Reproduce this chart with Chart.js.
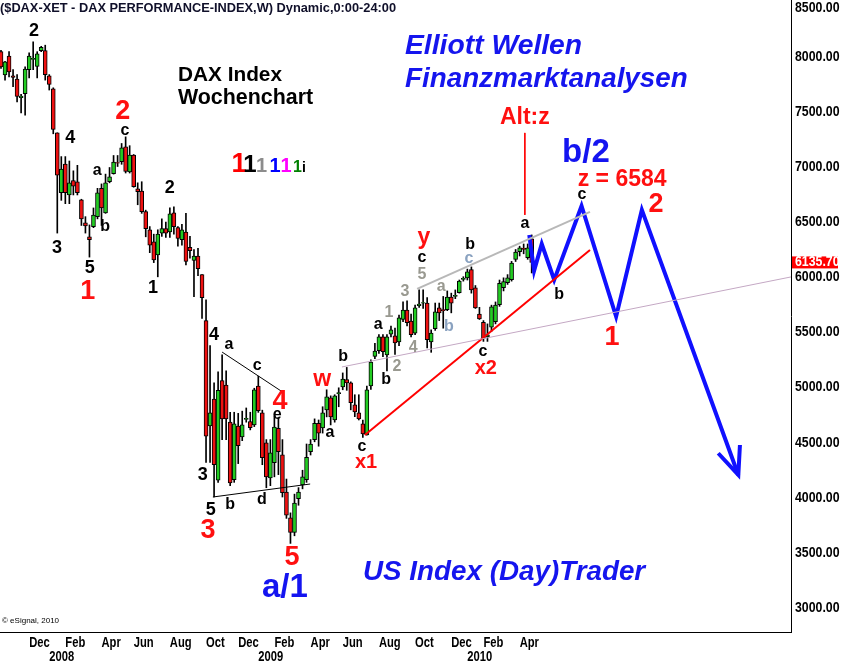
<!DOCTYPE html>
<html lang="de">
<head>
<meta charset="UTF-8">
<title>DAX Wochenchart</title>
<script src="https://cdn.jsdelivr.net/npm/chart.js"></script>
<style>
  html, body { margin: 0; padding: 0; background: #fff; }
  canvas { display: block; }
</style>
</head>
<body>
<canvas id="daxChart" width="841" height="663"></canvas>
<script>
// weekly bars, index 0 = week ending 19.10.2007, last = week ending 30.04.2010
const opens = [
  8048, 7838, 8008, 7830, 7800, 7631, 7666, 7885, 7978, 7914,
  8057, 8057, 7830, 7710, 7312, 6768, 7027, 6748, 6878, 6868,
  6704, 6496, 6367, 6461, 6551, 6808, 6586, 6868, 6942, 7041,
  7051, 7185, 6957, 7110, 6803, 6783, 6596, 6432, 6322, 6203,
  6402, 6442, 6412, 6586, 6452, 6343, 6412, 6273, 6154, 6194,
  6025, 5608, 4652, 4896, 4160, 5063, 5023, 4686, 4165, 4651,
  4553, 4711, 4691, 4661, 5013, 4770, 4498, 4180, 4319, 4631,
  4389, 4052, 3819, 3685, 3992, 4116, 4165, 4418, 4528, 4676,
  4633, 4798, 4907, 4706, 4945, 5006, 5073, 5043, 4843, 4770,
  4671, 4571, 5014, 5282, 5336, 5460, 5296, 5485, 5470, 5415,
  5618, 5703, 5603, 5494, 5743, 5767, 5767, 5415, 5534, 5723,
  5708, 5708, 5822, 5827, 5862, 5981, 5996, 6070, 5906, 5668,
  5593, 5459, 5548, 5598, 5752, 5906, 5951, 5980, 6164, 6234,
  6263, 6179, 6349
];
const highs = [
  8060, 7960, 8048, 7885, 7840, 7661, 7910, 8038, 8137, 8048,
  8097, 8107, 7840, 7720, 7312, 7096, 7096, 7056, 6967, 7017,
  6709, 6551, 6476, 6630, 6808, 6848, 6937, 6997, 7106, 7106,
  7215, 7275, 7195, 7115, 6858, 6868, 6610, 6461, 6392, 6432,
  6531, 6501, 6630, 6640, 6461, 6481, 6581, 6372, 6253, 6263,
  6025, 5797, 5380, 5043, 5142, 5297, 5152, 4776, 4776, 4766,
  4786, 4815, 4776, 4994, 5103, 4795, 4528, 4528, 4736, 4726,
  4528, 4170, 3863, 4033, 4092, 4250, 4488, 4528, 4716, 4706,
  4826, 4980, 4925, 4935, 4998, 5133, 5183, 5052, 4935, 4935,
  4706, 5014, 5252, 5401, 5480, 5480, 5480, 5559, 5539, 5658,
  5777, 5787, 5668, 5748, 5886, 5886, 5817, 5524, 5767, 5767,
  5827, 5877, 5857, 5886, 5976, 6006, 6075, 6095, 5926, 5728,
  5608, 5578, 5748, 5777, 5976, 5996, 6025, 6145, 6253, 6283,
  6303, 6303, 6385
];
const lows = [
  7895, 7790, 7820, 7730, 7592, 7492, 7472, 7810, 7885, 7810,
  8048, 7790, 7700, 7303, 6402, 6699, 6669, 6669, 6748, 6748,
  6471, 6402, 6184, 6451, 6531, 6471, 6581, 6858, 6937, 7006,
  7026, 6947, 6947, 6818, 6659, 6581, 6368, 6224, 6134, 6005,
  6372, 6362, 6362, 6392, 6283, 6293, 6114, 6174, 5826, 6015,
  5628, 4320, 4320, 4007, 4140, 4527, 4527, 4110, 4140, 4310,
  4518, 4686, 4616, 4646, 4775, 4300, 4091, 4110, 4190, 4210,
  4007, 3813, 3586, 3655, 3932, 4081, 4140, 4388, 4508, 4468,
  4587, 4734, 4661, 4686, 4826, 4980, 4975, 4798, 4736, 4706,
  4548, 4568, 4984, 5262, 5311, 5281, 5152, 5460, 5301, 5380,
  5598, 5559, 5460, 5479, 5728, 5718, 5360, 5320, 5519, 5608,
  5539, 5698, 5678, 5807, 5857, 5966, 5976, 5857, 5718, 5618,
  5419, 5419, 5509, 5578, 5737, 5877, 5936, 5966, 6144, 6194,
  6214, 6164, 6040
];
const closes = [
  7909, 7955, 7865, 7815, 7641, 7646, 7890, 8008, 7988, 8028,
  8087, 7840, 7750, 7342, 6927, 6982, 6768, 6858, 6828, 6768,
  6530, 6466, 6342, 6566, 6768, 6630, 6858, 6912, 7046, 7036,
  7175, 6962, 7110, 6823, 6778, 6596, 6442, 6293, 6159, 6392,
  6442, 6402, 6576, 6461, 6353, 6432, 6144, 6243, 6194, 6080,
  5816, 4558, 4771, 4300, 4974, 4716, 4716, 4135, 4671, 4473,
  4661, 4721, 4636, 4979, 4790, 4363, 4190, 4408, 4641, 4418,
  4047, 3843, 3685, 3953, 4052, 4190, 4368, 4488, 4676, 4587,
  4770, 4915, 4734, 4925, 4955, 5078, 5043, 4862, 4779, 4716,
  4580, 4979, 5232, 5331, 5460, 5326, 5460, 5524, 5405, 5633,
  5703, 5588, 5479, 5723, 5758, 5772, 5435, 5494, 5688, 5678,
  5698, 5822, 5767, 5837, 5966, 5991, 6050, 5887, 5723, 5623,
  5449, 5479, 5732, 5748, 5945, 5961, 5996, 6130, 6229, 6268,
  6253, 6268, 6135.70
];

// axis ticks (week index of first bar in month / year)
const monthWeeks = [7, 16, 25, 33, 42, 51, 59, 68, 77, 85, 94, 103, 112, 120, 129];
const monthLabels = ['Dec', 'Feb', 'Apr', 'Jun', 'Aug', 'Oct', 'Dec', 'Feb', 'Apr', 'Jun', 'Aug', 'Oct', 'Dec', 'Feb', 'Apr'];
const yearWeeks = [12, 64, 116];
const yearLabels = ['2008', '2009', '2010'];
const priceTicks = [3000, 3500, 4000, 4500, 5000, 5500, 6000, 6500, 7000, 7500, 8000, 8500];

// drawn lines (week, price)
const triTopWeeks = [55.0, 69.7];
const triTopPrices = [5322, 4968];
const triBotWeeks = [52.7, 76.9];
const triBotPrices = [4007, 4125];
const redTrendWeeks = [90.5, 146.5];
const redTrendPrices = [4569, 6248];
const lilacWeeks = [84.8, 196.5];
const lilacPrices = [5187, 6004];
const channelWeeks = [103.5, 146.5];
const channelPrices = [5895, 6594];
const altWeeks = [130.3, 130.3];
const altPrices = [7311, 6567];
const projWeeks = [131.4, 132.6, 134.5, 137.6, 144.4, 153.0, 159.4, 183.4];
const projPrices = [6385, 6061, 6303, 5977, 6648, 5644, 6612, 4207];
const arrowWeeks = [178.4, 183.4, 183.8];
const arrowPrices = [4404, 4207, 4479];

// wave counts
const waveText = ['2', '4', '3', '5', '1', 'a', 'b', '2', 'c', '2', '1', '4', 'a', 'c', '4', 'e', '3', '5', 'b', 'd',
  '3', '5', 'a/1', 'w', 'b', 'a', 'c', 'x1', 'a', 'b', '1', '2', '3', '4', '5', 'c', 'y', 'a', 'b', 'c',
  'b', 'c', 'x2', 'a', 'Alt:z', 'b/2', 'z = 6584', 'c', '2', '1', 'b'];
const waveWeek = [8.2, 17.2, 13.9, 22.1, 21.6, 23.9, 25.9, 30.3, 30.8, 42.0, 37.8, 53.0, 56.7, 63.7, 69.4, 68.7, 50.2, 52.2, 57.0, 64.9,
  51.5, 72.4, 70.6, 79.9, 85.1, 81.8, 89.8, 90.8, 93.8, 95.8, 96.5, 98.5, 100.5, 102.5, 104.7, 104.7, 105.2, 109.5, 111.4, 116.4,
  116.7, 119.9, 120.6, 130.3, 130.3, 145.5, 154.5, 144.5, 162.9, 152.0, 138.8];
const wavePrice = [8236, 7265, 6267, 6086, 5868, 6965, 6457, 7501, 7328, 6811, 5904, 5478, 5387, 5196, 4870, 4752, 4207, 3890, 3935, 3980,
  3699, 3454, 3182, 5069, 5278, 4588, 4461, 4316, 5568, 5069, 5677, 5187, 5868, 5360, 6022, 6176, 6358, 5913, 5550, 6167,
  6294, 5323, 5169, 6484, 7446, 7128, 6883, 6748, 6657, 5450, 5840];
const waveKind = ['k', 'k', 'k', 'k', 'r', 's', 's', 'r', 's', 'k', 'k', 'k', 's', 's', 'r', 's', 'k', 'k', 's', 's',
  'r', 'r', 'B', 'm', 's', 's', 's', 'x', 's', 's', 'g', 'g', 'g', 'g', 'g', 's', 'm', 'g', 'h', 'h',
  's', 's', 'x', 's', 'm', 'B', 'm', 's', 'r', 'r', 's'];

const SANS = "'Liberation Sans', Arial, sans-serif";
const kinds = {
  k: ['bold 18px', '#000000'],
  s: ['bold 16px', '#000000'],
  r: ['bold 27px', '#ff1010'],
  m: ['bold 23px', '#ff1010'],
  x: ['bold 20px', '#ff1010'],
  g: ['bold 16px', '#999990'],
  h: ['bold 16px', '#8aa2c0'],
  B: ['bold 33px', '#1414f0']
};

function pts(xs, ys) {
  return xs.map((x, i) => ({x: x, y: ys[i]}));
}

function lineSet(xs, ys, color, width) {
  return {
    type: 'line',
    data: pts(xs, ys),
    borderColor: color,
    borderWidth: width,
    pointRadius: 0,
    tension: 0,
    fill: false,
    order: -1
  };
}

function fitFont(ctx, text, width, style) {
  ctx.font = style + ' 20px ' + SANS;
  const size = 20 * width / ctx.measureText(text).width;
  return style + ' ' + size.toFixed(1) + 'px ' + SANS;
}

// condensed text, like the narrow axis font of the original
function narrowText(ctx, text, x, y, sx) {
  ctx.save();
  ctx.translate(x, y);
  ctx.scale(sx, 1);
  ctx.fillText(text, 0, 0);
  ctx.restore();
}

const annotations = {
  id: 'annotations',
  afterDraw(chart) {
    const ctx = chart.ctx;
    const xs = chart.scales.x;
    const ys = chart.scales.y;
    ctx.save();

    // price axis labels
    ctx.font = 'bold 14px ' + SANS;
    ctx.fillStyle = '#000';
    ctx.textAlign = 'left';
    ctx.textBaseline = 'middle';
    ys.ticks.forEach(t => {
      const py = Math.max(ys.getPixelForValue(t.value), 8);
      narrowText(ctx, t.value.toFixed(2), ys.left + 4, py, 0.88);
    });

    // last price tag
    const last = closes[closes.length - 1];
    const ly = ys.getPixelForValue(last);
    ctx.fillStyle = '#ff0000';
    ctx.fillRect(ys.left + 1, ly - 6, 46, 12);
    ctx.fillStyle = '#ffffff';
    narrowText(ctx, last.toFixed(2), ys.left + 4, ly, 0.88);

    // time axis labels
    ctx.fillStyle = '#000';
    ctx.font = 'bold 14px ' + SANS;
    xs.ticks.forEach((t, i) => {
      narrowText(ctx, monthLabels[i], xs.getPixelForValue(t.value), xs.top + 11, 0.8);
    });
    yearWeeks.forEach((w, i) => {
      narrowText(ctx, yearLabels[i], xs.getPixelForValue(w), xs.top + 25, 0.8);
    });

    // header and titles
    const titles = [
      ['($DAX-XET - DAX PERFORMANCE-INDEX,W) Dynamic,0:00-24:00', 0, 8, 395, 'bold', '#10102a'],
      ['Elliott Wellen', 405, 46, 177, 'italic bold', '#1515ee'],
      ['Finanzmarktanalysen', 405, 79, 283, 'italic bold', '#1515ee'],
      ['US Index (Day)Trader', 363, 572, 282, 'italic bold', '#1515ee'],
      ['DAX Index', 178, 75, 104, 'bold', '#000000'],
      ['Wochenchart', 178, 98, 135, 'bold', '#000000']
    ];
    titles.forEach(t => {
      ctx.font = fitFont(ctx, t[0], t[3], t[4]);
      ctx.fillStyle = t[5];
      ctx.fillText(t[0], t[1], t[2]);
    });

    ctx.font = '8px ' + SANS;
    ctx.fillStyle = '#000';
    ctx.fillText('\u00a9 eSignal, 2010', 2, 621);

    // coloured degree legend
    const legend = [
      ['1', 239, 27, '#ff0000'],
      ['1', 250, 24, '#000000'],
      ['1', 261.5, 20, '#8c8c8c'],
      ['1', 275, 20, '#0000ff'],
      ['1', 286, 20, '#ff00ff'],
      ['1', 297.5, 16, '#008000'],
      ['i', 304, 14, '#000000']
    ];
    ctx.textAlign = 'center';
    ctx.textBaseline = 'alphabetic';
    legend.forEach(l => {
      ctx.font = 'bold ' + l[2] + 'px ' + SANS;
      ctx.fillStyle = l[3];
      ctx.fillText(l[0], l[1], 172);
    });

    // wave labels
    ctx.textBaseline = 'middle';
    waveText.forEach((t, i) => {
      const k = kinds[waveKind[i]];
      ctx.font = k[0] + ' ' + SANS;
      ctx.fillStyle = k[1];
      ctx.fillText(t, xs.getPixelForValue(waveWeek[i]), ys.getPixelForValue(wavePrice[i]));
    });
    ctx.restore();
  }
};

const weeks = closes.map((c, i) => i);
const bodyData = weeks.map(i => {
  let o = opens[i], c = closes[i];
  if (Math.abs(o - c) < 8) { o = c + (c >= o ? -5 : 5); }
  return {x: i, y: [o, c]};
});
const wickData = weeks.map(i => ({x: i, y: [lows[i], highs[i]]}));
const bodyColors = weeks.map(i => closes[i] >= opens[i] ? '#22cc22' : '#ee1111');

new Chart(document.getElementById('daxChart').getContext('2d'), {
  type: 'bar',
  data: {
    datasets: [
      {
        data: bodyData,
        backgroundColor: bodyColors,
        borderColor: '#000000',
        borderWidth: 1,
        borderSkipped: false,
        barThickness: 4,
        grouped: false,
        order: 0
      },
      {
        data: wickData,
        backgroundColor: '#000000',
        barThickness: 1,
        grouped: false,
        order: 1
      },
      lineSet(lilacWeeks, lilacPrices, '#c4a8c4', 1),
      lineSet(channelWeeks, channelPrices, '#b8b8b8', 2),
      lineSet(triTopWeeks, triTopPrices, '#000000', 1),
      lineSet(triBotWeeks, triBotPrices, '#000000', 1),
      lineSet(redTrendWeeks, redTrendPrices, '#ff0000', 2),
      lineSet(altWeeks, altPrices, '#ff0000', 1),
      lineSet(projWeeks, projPrices, '#1010ff', 4),
      lineSet(arrowWeeks, arrowPrices, '#1010ff', 4)
    ]
  },
  options: {
    responsive: false,
    animation: false,
    events: [],
    layout: { padding: 0 },
    plugins: {
      legend: { display: false },
      tooltip: { enabled: false }
    },
    scales: {
      x: {
        type: 'linear',
        position: 'bottom',
        min: -0.25,
        max: 196.5,
        offset: false,
        grid: { display: false, drawTicks: false },
        border: { display: true, color: '#000000', width: 1 },
        afterBuildTicks: s => { s.ticks = monthWeeks.map(v => ({value: v})); },
        afterFit: s => { s.height = 31; },
        ticks: { display: false }
      },
      y: {
        type: 'linear',
        position: 'right',
        min: 2782,
        max: 8517,
        grid: { display: false, drawTicks: false },
        border: { display: true, color: '#000000', width: 1 },
        afterBuildTicks: s => { s.ticks = priceTicks.map(v => ({value: v})); },
        afterFit: s => { s.width = 50; },
        ticks: { display: false }
      }
    }
  },
  plugins: [annotations]
});
</script>
</body>
</html>
